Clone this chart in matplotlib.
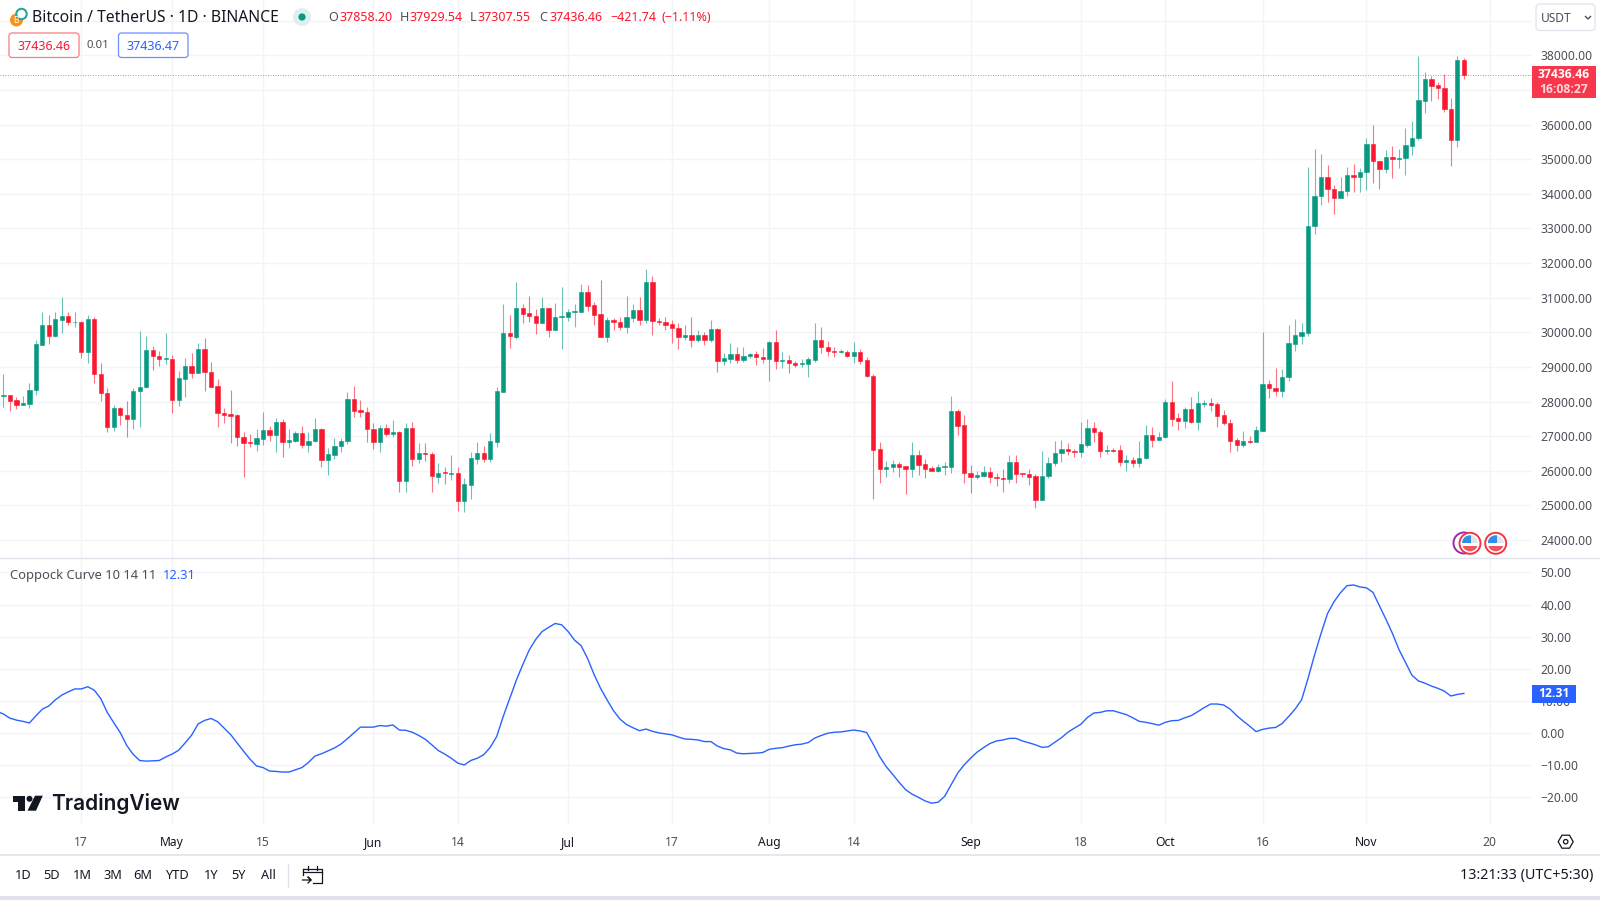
import numpy as np
import pandas as pd
import matplotlib
matplotlib.use("Agg")
import matplotlib.pyplot as plt
import matplotlib.dates as mdates
from matplotlib.patches import Circle, FancyBboxPatch, Polygon, Rectangle, RegularPolygon

plt.rcParams["font.family"] = ["Noto Sans", "DejaVu Sans"]

# daily candles, BTC/USDT
first_day = "2023-04-05"

opens = [
    28168, 28188, 28043, 27908, 27937, 28322, 29632, 30210, 29882, 30364, 30470, 30287, 30306, 29430, 30373, 28804,
    28255, 27263, 27822, 27610, 27504, 28293, 28409, 29487, 29314, 29237, 29237, 28053, 28659, 29025, 28823, 29516,
    28852, 28448, 27677, 27639, 27610, 26975, 26830, 26772, 26917, 27177, 27032, 27408, 26820, 26869, 27100, 26744,
    26849, 27215, 26320, 26455, 26705, 26849, 28062, 27754, 27697, 27215, 26830, 27244, 27061, 27119, 25713, 27244,
    26339, 26512, 26474, 25829, 25954, 25915, 25944, 25116, 25588, 26339, 26522, 26329, 26840, 28284, 29988, 29873,
    30691, 30547, 30470, 30258, 30691, 30065, 30441, 30450, 30585, 30595, 31163, 30787, 30518, 29873, 30354, 30296,
    30142, 30412, 30643, 30354, 31461, 30325, 30306, 30238, 30133, 29853, 29921, 29776, 29921, 29776, 30094, 29179,
    29218, 29372, 29199, 29304, 29372, 29285, 29228, 29728, 29179, 29199, 29112, 29093, 29083, 29199, 29776, 29574,
    29449, 29420, 29430, 29304, 29430, 29199, 28736, 26618, 26050, 26098, 26195, 26137, 26050, 26455, 26195, 26070,
    25993, 26118, 26118, 27725, 27321, 25944, 25810, 25848, 25964, 25819, 25800, 25761, 26252, 25925, 25915, 25848,
    25155, 25839, 26224, 26513, 26619, 26570, 26542, 26744, 27225, 27119, 26580, 26599, 26599, 26253, 26311, 26224,
    26368, 27033, 26898, 26965, 27995, 27514, 27427, 27784, 27398, 27938, 27967, 27918, 27610, 27389, 26888, 26744,
    26850, 26840, 27158, 28506, 28400, 28313, 28698, 29661, 29902, 29970, 33070, 33936, 34495, 34148, 33888, 34071,
    34543, 34485, 34629, 35429, 34938, 34716, 35063, 35015, 35034, 35390, 35602, 36690, 37306, 37133, 37065, 36459,
    35544, 37858.20,
]

closes = [
    28188, 28024, 27908, 27947, 28332, 29661, 30210, 29892, 30373, 30470, 30296, 30306, 29430, 30373, 28804, 28255,
    27263, 27822, 27600, 27504, 28303, 28419, 29487, 29304, 29237, 29256, 28053, 28669, 29025, 28823, 29516, 28852,
    28428, 27668, 27610, 27591, 26975, 26801, 26801, 26936, 27177, 27032, 27408, 26820, 26888, 27100, 26744, 26859,
    27215, 26320, 26474, 26715, 26859, 28072, 27735, 27697, 27215, 26820, 27244, 27061, 27119, 25713, 27244, 26339,
    26503, 26493, 25839, 25944, 25935, 25944, 25116, 25617, 26358, 26522, 26339, 26859, 28303, 29988, 29882, 30691,
    30527, 30460, 30258, 30691, 30075, 30441, 30470, 30595, 30614, 31172, 30768, 30498, 29873, 30354, 30287, 30142,
    30431, 30643, 30354, 31461, 30315, 30306, 30210, 30113, 29853, 29921, 29776, 29921, 29776, 30094, 29179, 29247,
    29372, 29199, 29314, 29372, 29276, 29228, 29728, 29179, 29199, 29112, 29054, 29112, 29228, 29776, 29574, 29449,
    29430, 29449, 29304, 29430, 29179, 28727, 26599, 26050, 26108, 26195, 26118, 26050, 26455, 26166, 26050, 26002,
    26108, 26137, 27725, 27302, 25935, 25810, 25877, 25964, 25810, 25790, 25771, 26252, 25915, 25906, 25829, 25165,
    25848, 26234, 26522, 26628, 26561, 26542, 26763, 27225, 27110, 26561, 26599, 26580, 26253, 26311, 26224, 26378,
    27033, 26898, 26985, 27995, 27495, 27427, 27784, 27398, 27947, 27967, 27899, 27591, 27379, 26869, 26744, 26859,
    26830, 27177, 28506, 28390, 28313, 28708, 29680, 29921, 29998, 33070, 33936, 34495, 34148, 33888, 34081, 34543,
    34485, 34629, 35429, 34938, 34716, 35063, 35005, 35043, 35400, 35621, 36709, 37306, 37123, 37056, 36449, 35544,
    37858, 37436.46,
]

highs = [
    28794, 28188, 28120, 28168, 28544, 29776, 30575, 30498, 30595, 31009, 30595, 30575, 30315, 30489, 30431, 29102,
    28380, 27899, 27851, 28014, 28399, 30046, 29892, 29603, 29459, 29969, 29333, 28881, 29266, 29391, 29680, 29824,
    29150, 28650, 27822, 28332, 27629, 27109, 27061, 27206, 27687, 27292, 27514, 27485, 27206, 27138, 27292, 27109,
    27514, 27225, 26647, 26936, 26936, 28284, 28448, 28043, 27851, 27369, 27321, 27340, 27466, 27148, 27369, 27398,
    26811, 26792, 26551, 26214, 26118, 26455, 26118, 25781, 26532, 26840, 26715, 27080, 28409, 30816, 30498, 31442,
    30816, 31047, 30662, 31009, 30710, 30855, 31298, 30662, 30816, 31394, 31365, 30884, 31509, 30450, 30402, 30450,
    31047, 30816, 31009, 31827, 31634, 30402, 30450, 30354, 30258, 30210, 30431, 30065, 30017, 30354, 30113, 29391,
    29699, 29584, 29564, 29410, 29459, 29536, 29747, 30065, 29420, 29343, 29170, 29228, 29295, 30258, 30161, 29747,
    29564, 29507, 29487, 29709, 29516, 29276, 28785, 26840, 26281, 26310, 26262, 26147, 26840, 26599, 26339, 26137,
    26195, 26262, 28168, 27783, 27610, 26166, 26002, 26137, 26118, 25925, 26041, 26455, 26455, 25944, 26041, 25906,
    26570, 26407, 26859, 26888, 26792, 26628, 27418, 27495, 27398, 27177, 26744, 26648, 26744, 26455, 26407, 26859,
    27322, 27254, 27110, 28072, 28592, 27678, 27851, 28140, 28313, 28044, 28111, 27995, 27755, 27485, 26956, 27148,
    27004, 27293, 30017, 28621, 28978, 28939, 30210, 30383, 30258, 34764, 35294, 35149, 34832, 34254, 34495, 34764,
    34851, 34735, 35602, 35987, 34947, 35265, 35380, 35284, 35891, 36103, 37990, 37508, 37402, 37239, 37460, 36757,
    37990, 37929.54,
]

lows = [
    27831, 27735, 27783, 27889, 27812, 28188, 29632, 29661, 29873, 29969, 30210, 30142, 29247, 29102, 28525, 28014,
    27129, 27148, 27321, 26965, 27206, 27254, 28399, 28910, 29025, 29083, 27677, 27870, 28120, 28669, 28823, 28313,
    28409, 27273, 27379, 26792, 26724, 25829, 26695, 26580, 26744, 26869, 26551, 26387, 26647, 26840, 26667, 26551,
    26820, 26098, 25877, 26339, 26551, 26772, 27552, 27562, 26840, 26628, 26532, 27013, 26965, 25396, 25376, 26137,
    26214, 26281, 25376, 25646, 25617, 25733, 24837, 24818, 25184, 26195, 26262, 26262, 26676, 28265, 29536, 29805,
    30258, 30287, 29950, 30258, 29873, 30065, 29516, 30335, 30161, 30575, 30614, 30210, 29853, 29709, 30065, 30065,
    29969, 30306, 30210, 30258, 29921, 30210, 30065, 29680, 29516, 29776, 29584, 29728, 29632, 29728, 28862, 29054,
    29112, 29102, 29131, 29266, 29054, 29102, 28602, 28939, 28977, 28814, 28987, 28987, 28717, 29141, 29391, 29314,
    29276, 29391, 29285, 29112, 29083, 28717, 25184, 25636, 25810, 25973, 25829, 25328, 25829, 25877, 25781, 25983,
    25973, 25877, 25925, 27032, 25655, 25347, 25771, 25810, 25636, 25559, 25396, 25636, 25655, 25810, 25588, 24924,
    25155, 25791, 26147, 26243, 26455, 26407, 26388, 26686, 26821, 26388, 26484, 26532, 26147, 25993, 26099, 26118,
    26349, 26676, 26888, 26956, 27293, 27187, 27235, 27379, 27177, 27851, 27726, 27273, 27322, 26551, 26580, 26696,
    26792, 26821, 27139, 28092, 28169, 28121, 28602, 29469, 29661, 29902, 32839, 33676, 33753, 33416, 33869, 33936,
    34061, 34042, 34110, 34302, 34138, 34591, 34466, 34735, 34543, 35120, 35554, 36343, 36690, 36738, 36353, 34803,
    35361, 37307.55,
]

# the curve starts one day before the first visible candle
coppock_first_day = "2023-04-04"
coppock = [
    6.7, 5.9, 4.6, 4.0, 3.6, 3.1, 5.3, 7.4, 8.4, 10.3, 11.8, 12.8, 13.7, 13.7, 14.4, 13.3, 10.7,
    6.4, 3.2, 0.1, -3.9, -6.7, -8.6, -8.8, -8.7, -8.6, -7.5, -6.6, -5.4, -3.1, -0.7, 2.8, 3.9,
    4.5, 3.5, 1.5, -0.5, -3.1, -5.7, -8.2, -10.3, -10.8, -11.9, -12.0, -12.2, -12.2, -11.5, -10.8, -9.2,
    -7.2, -6.5, -5.6, -4.7, -3.5, -1.8, 0.0, 1.8, 1.8, 1.8, 2.3, 2.1, 2.5, 0.9, 0.8, 0.2,
    -0.8, -2.0, -3.7, -5.5, -6.6, -7.9, -9.4, -10.0, -8.6, -7.9, -6.8, -4.5, -1.1, 5.1, 10.7, 16.3,
    21.2, 25.8, 29.1, 31.6, 32.9, 34.1, 33.7, 31.6, 28.9, 27.2, 23.2, 18.2, 13.9, 10.3, 6.9, 4.3,
    2.6, 1.6, 0.7, 1.2, 0.5, 0.0, -0.3, -0.6, -1.3, -1.9, -2.0, -2.2, -2.7, -2.7, -4.1, -4.9,
    -5.3, -6.3, -6.5, -6.4, -6.3, -6.1, -5.1, -4.8, -4.6, -4.1, -3.7, -3.5, -3.0, -1.6, -0.8, -0.1,
    0.2, 0.3, 0.6, 0.9, 0.6, 0.1, -3.5, -7.4, -10.5, -12.9, -15.4, -17.7, -19.1, -20.1, -21.2, -21.9,
    -21.6, -19.8, -16.2, -12.6, -10.0, -7.9, -6.0, -4.6, -3.3, -2.5, -2.2, -1.7, -1.7, -2.5, -3.1, -3.7,
    -4.5, -4.3, -2.9, -1.5, 0.2, 1.5, 2.7, 4.8, 6.2, 6.4, 6.9, 6.9, 6.3, 5.7, 4.7, 3.6,
    3.3, 2.9, 2.4, 3.3, 3.8, 3.9, 4.7, 5.4, 6.6, 7.9, 9.0, 9.0, 8.7, 7.4, 5.4, 3.7,
    2.1, 0.4, 1.1, 1.5, 1.7, 2.9, 5.1, 7.4, 10.3, 17.0, 24.3, 31.0, 37.2, 40.9, 43.7, 45.9,
    46.1, 45.5, 45.2, 43.8, 39.6, 35.4, 31.0, 26.0, 22.0, 18.0, 16.2, 15.5, 14.6, 13.9, 13.0, 11.5,
    12.0, 12.31,
]

# 37000 sits behind the last price tag in the screenshot, so it gets a grid line but no label
price_ticks = [38000, 36000, 35000, 34000, 33000, 32000, 31000, 30000, 29000, 28000, 27000, 26000, 25000, 24000]
unlabelled_ticks = [39000, 37000]
coppock_ticks = [50, 40, 30, 20, 10, 0, -10, -20]

time_ticks = ["2023-04-17", "2023-05-01", "2023-05-15", "2023-06-01", "2023-06-14", "2023-07-01", "2023-07-17",
              "2023-08-01", "2023-08-14", "2023-09-01", "2023-09-18", "2023-10-01", "2023-10-16", "2023-11-01",
              "2023-11-20"]
time_labels = ["17", "May", "15", "Jun", "14", "Jul", "17", "Aug", "14", "Sep", "18", "Oct", "16", "Nov", "20"]

range_buttons = ["1D", "5D", "1M", "3M", "6M", "YTD", "1Y", "5Y", "All"]
button_x = [23, 52, 82, 113, 143, 177, 211, 239, 268]

GREEN = "#089981"
RED = "#f9182f"
BLUE = "#2962ff"
GRID = "#f3f4f7"
BORDER = "#e0e3eb"
LABEL = "#4c4f59"
DARK = "#131722"

W, H = 1600, 900
PANE_RIGHT = 1532

o = np.array(opens, dtype=float)
c = np.array(closes, dtype=float)
hi = np.array(highs, dtype=float)
lo = np.array(lows, dtype=float)
x = mdates.date2num(pd.date_range(first_day, periods=len(o)))
x_coppock = mdates.date2num(pd.date_range(coppock_first_day, periods=len(coppock)))
up = c >= o

fig = plt.figure(figsize=(16, 9), dpi=100, facecolor="white")


def pane(top, bottom):
    return fig.add_axes([0, 1 - bottom / H, PANE_RIGHT / W, (bottom - top) / H])


ax = pane(0, 558)
ax2 = pane(559, 825)

# candles
for mask, col in [(up, GREEN), (~up, RED)]:
    ax.vlines(x[mask], lo[mask], hi[mask], color=col, lw=0.8, alpha=0.6, zorder=3)
    ax.bar(x[mask], (c - o)[mask], bottom=o[mask], width=0.66, color=col, edgecolor=col, lw=0.4, zorder=4)

ax.axhline(closes[-1], color=RED, lw=0.6, alpha=0.8, ls=(0, (1, 2)), zorder=5)

ax2.plot(x_coppock, coppock, color=BLUE, lw=1.0, zorder=3)

tick_pos = mdates.date2num(pd.to_datetime(time_ticks))
for a in (ax, ax2):
    a.set_xlim(x[0] - 0.524, x[0] + 235.5)
    a.set_xticks(tick_pos)
    a.grid(True, color=GRID, lw=1.0)
    a.set_axisbelow(True)
    a.yaxis.tick_right()
    a.tick_params(length=0, labelsize=8.7, labelcolor=LABEL, pad=6)
    for s in a.spines.values():
        s.set_visible(False)

ax.set_ylim(23480, 39597)
ax.set_yticks(price_ticks + unlabelled_ticks)
ax.set_yticklabels([f"{t:.2f}" for t in price_ticks] + [""] * len(unlabelled_ticks))
ax.tick_params(axis="x", labelbottom=False)

ax2.set_ylim(-28.7, 54.2)
ax2.set_yticks(coppock_ticks)
ax2.set_yticklabels([f"{t:.2f}".replace("-", "\u2212") for t in coppock_ticks])
ax2.set_xticklabels(time_labels)
ax2.tick_params(axis="x", pad=15)
for lab, txt in zip(ax2.get_xticklabels(), time_labels):
    lab.set_va("baseline")
    if txt.isalpha():
        lab.set_color(DARK)
        lab.set_fontweight("medium")

# everything that is screen furniture goes on a pixel overlay
ui = fig.add_axes([0, 0, 1, 1], zorder=10)
ui.set_xlim(0, W)
ui.set_ylim(H, 0)
ui.axis("off")


def label(px, py, s, color=DARK, size=8.8, ha="left", **kw):
    ui.text(px, py, s, color=color, fontsize=size, ha=ha, va="center", **kw)


def rounded(x0, y0, x1, y1, edge, face="white", r=3, lw=0.9):
    ui.add_patch(FancyBboxPatch((x0 + r, y0 + r), x1 - x0 - 2 * r, y1 - y0 - 2 * r,
                                boxstyle=f"round,pad={r},rounding_size={r}", fc=face, ec=edge, lw=lw))


def us_flag(cx, cy):
    ui.add_patch(Circle((cx, cy), 10.5, fc="white", ec="#f23645", lw=1.4))
    clip = Circle((cx, cy), 8, transform=ui.transData)
    for rect in [Rectangle((cx - 8, cy - 8), 16, 8, fc="#dfe3ea", ec="none"),
                 Rectangle((cx - 8, cy - 8), 9, 8, fc="#2f8fe8", ec="none"),
                 Rectangle((cx - 8, cy + 2.5), 16, 6, fc="#f0565f", ec="none")]:
        ui.add_patch(rect)
        rect.set_clip_path(clip)


# header
ui.add_patch(Circle((16.5, 20), 6.5, fc="#f7931a", ec="none"))
ui.add_patch(Circle((21.5, 14), 5.2, fc="white", ec="#26a69a", lw=1.5))
label(16, 20.5, "B", color="white", size=6, ha="center", fontweight="bold")
label(32.5, 17.5, "Bitcoin / TetherUS \u00b7 1D \u00b7 BINANCE", size=11.3)
ui.add_patch(Circle((302, 17), 9, fc="#dcf1ee", ec="none"))
ui.add_patch(Circle((302, 17), 3.6, fc=GREEN, ec="none"))
for px, s, col in [(328, "O", LABEL), (339, "37858.20", RED), (399.5, "H", LABEL), (409.5, "37929.54", RED),
                   (470, "L", LABEL), (478, "37307.55", RED), (539, "C", LABEL), (549, "37436.46", RED),
                   (610, "\u2212421.74", RED), (662, "(\u22121.11%)", RED)]:
    label(px, 17.5, s, color=col, size=9)

rounded(9, 33, 79, 57.5, "#f77c80")
label(44, 46, "37436.46", color=RED, size=9, ha="center")
label(98, 46, "0.01", color=LABEL, size=8.2, ha="center")
rounded(118.5, 33, 188, 57.5, "#6d8fff")
label(153, 46, "37436.47", color=BLUE, size=9, ha="center")

# currency button
rounded(1536, 4, 1595, 30.5, BORDER, r=4)
label(1541, 18, "USDT", color=LABEL, size=8.6)
ui.plot([1585.5, 1588, 1590.5], [16.5, 19, 16.5], color=LABEL, lw=1)

# last price tags
ui.add_patch(Rectangle((1532, 66), 64, 32, fc="#f7384c", ec="none"))
label(1564, 74.7, "37436.46", color="white", size=8.7, ha="center", fontweight="bold", family="Open Sans")
label(1564, 89.3, "16:08:27", color="#ffd5d9", size=8.7, ha="center", fontweight="bold", family="Open Sans")
ui.add_patch(Rectangle((1532, 685), 44, 17.5, fc=BLUE, ec="none"))
label(1554, 693.7, "12.31", color="white", size=8.7, ha="center", fontweight="bold", family="Open Sans")

# event markers
ui.add_patch(Circle((1464, 543), 10.5, fc="white", ec="#9c27b0", lw=1.4))
us_flag(1470, 543.3)
us_flag(1495.7, 543.3)

# separators
ui.plot([0, W], [558, 558], color=BORDER, lw=1)
ui.plot([0, W], [855, 855], color=BORDER, lw=1.2)
ui.add_patch(Rectangle((0, 896), W, 4, fc=BORDER, ec="none"))

# indicator legend
label(9.5, 575.5, "Coppock Curve 10 14 11", color=LABEL, size=9.3)
label(163, 575.5, "12.31", color=BLUE, size=9.3)

# TradingView logo
ui.add_patch(Polygon([(12.7, 795.7), (25, 795.7), (25, 810.7), (18.3, 810.7), (18.3, 802), (12.7, 802)], fc=DARK, ec="none"))
ui.add_patch(Circle((29.5, 798.8), 3, fc=DARK, ec="none"))
ui.add_patch(Polygon([(35, 795.7), (42.8, 795.7), (36, 810.7), (27.5, 810.7)], fc=DARK, ec="none"))
label(51, 803, "TradingView", size=15, family="Inter", fontweight="semibold")

# bottom toolbar
for px, s in zip(button_x, range_buttons):
    label(px, 875.5, s, size=9.2, ha="center")
ui.plot([287.7, 287.7], [864, 887], color=BORDER, lw=1)
ui.plot([303, 321.5, 321.5, 313], [868.5, 868.5, 883, 883], color=DARK, lw=0.9)
ui.plot([303, 303], [868.5, 875], color=DARK, lw=0.9)
ui.plot([303, 321.5], [872, 872], color=DARK, lw=0.9)
ui.plot([308, 308], [866, 870], color=DARK, lw=0.9)
ui.plot([316.5, 316.5], [866, 870], color=DARK, lw=0.9)
ui.plot([302.5, 311, 308, 311, 308], [880, 880, 877, 880, 883], color=DARK, lw=0.9)
label(1593, 875.5, "13:21:33 (UTC+5:30)", size=10.3, ha="right")

# chart settings gear
ui.add_patch(RegularPolygon((1565.7, 841.7), 6, radius=7.5, orientation=np.pi / 6, fc="white", ec=DARK, lw=0.9))
ui.add_patch(Circle((1565.7, 841.7), 2.2, fc="white", ec=DARK, lw=0.9))

fig.savefig("out.png", dpi=100)
